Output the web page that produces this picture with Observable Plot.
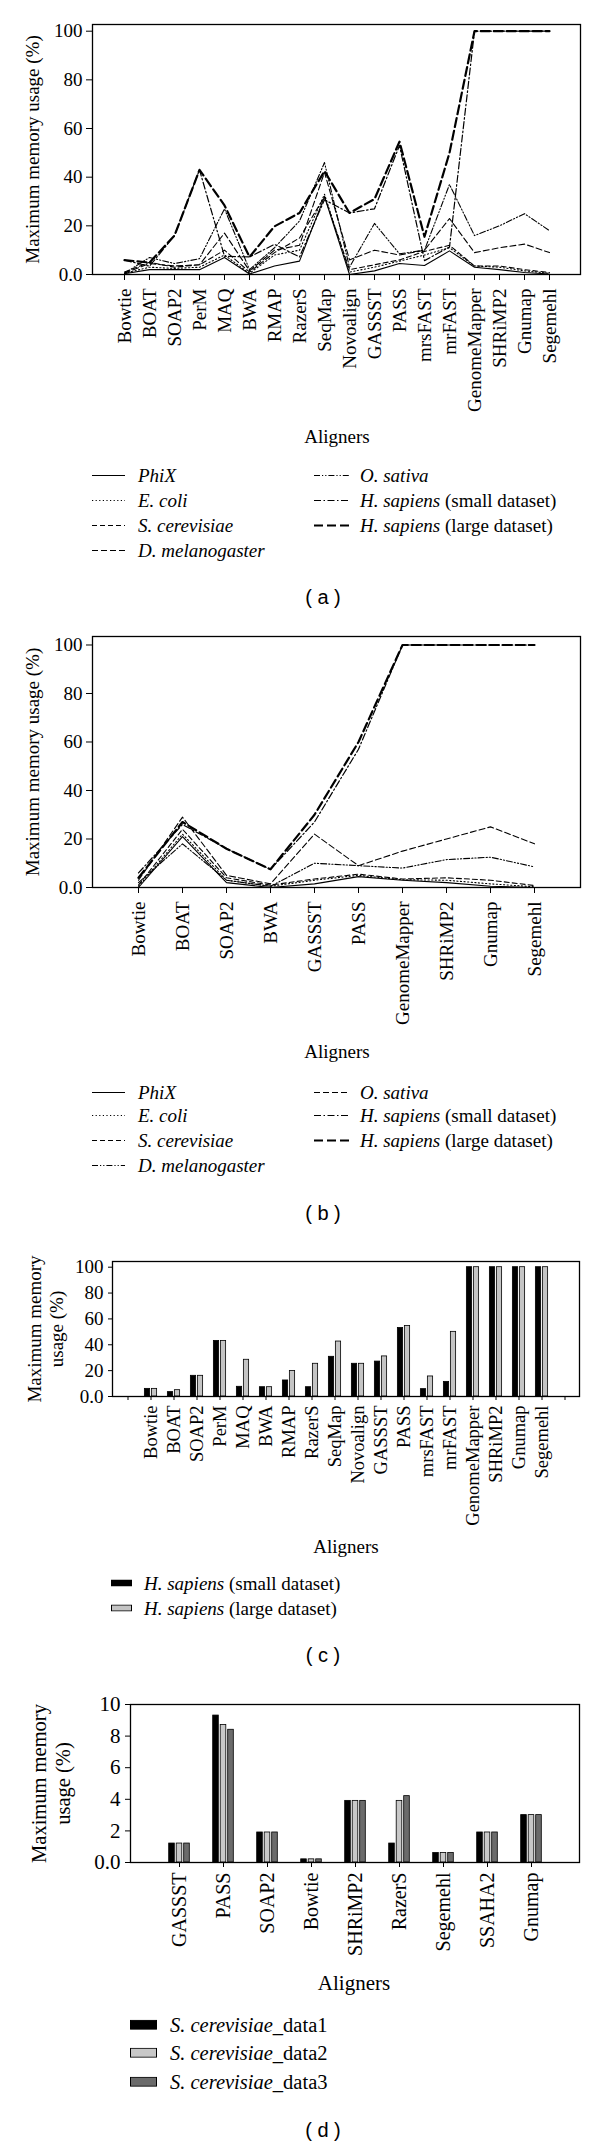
<!DOCTYPE html>
<html><head><meta charset="utf-8">
<script src="https://cdn.jsdelivr.net/npm/d3@7"></script>
<script src="https://cdn.jsdelivr.net/npm/@observablehq/plot@0.6"></script>
<style>
body{margin:0;background:#fff;}
#page{position:relative;width:600px;height:2146px;background:#fff;font-family:"Liberation Serif",serif;color:#000;overflow:hidden}
.lbl{position:absolute;transform:translate(-50%,-50%);white-space:nowrap;line-height:1;}
.cap{position:absolute;transform:translate(-50%,-50%);font-family:"Liberation Sans",Arial,sans-serif;font-size:20px;white-space:pre;line-height:1;}
.leg{position:absolute;display:flex;align-items:center;transform:translateY(-50%);white-space:nowrap;line-height:1;}
svg.plotsvg{position:absolute;left:0;}
</style></head><body><div id="page"></div>
<script>
// ---------- data ----------
const seriesNames = ["PhiX","E. coli","S. cerevisiae","D. melanogaster","O. sativa","H. sapiens (small dataset)","H. sapiens (large dataset)"];
const legendItalic = ["PhiX","E. coli","S. cerevisiae","D. melanogaster","O. sativa","H. sapiens","H. sapiens"];
const legendRoman = ["","","","","", " (small dataset)", " (large dataset)"];

const alignersA = ["Bowtie","BOAT","SOAP2","PerM","MAQ","BWA","RMAP","RazerS","SeqMap","Novoalign","GASSST","PASS","mrsFAST","mrFAST","GenomeMapper","SHRiMP2","Gnumap","Segemehl"];
const phixA   = [0.3, 2, 2, 2, 7, 0.2, 3.5, 5.5, 32, 0, 1.5, 4.5, 3.7, 9.7, 3, 2, 0.8, 0.2];
const ecoliA  = [0.5, 3, 2.5, 3, 8, 0.5, 8, 10, 33, 1, 3, 5.5, 8, 11, 3.5, 3, 1.5, 0.5];
const scerA   = [1, 5, 3, 4, 10, 1, 9, 15, 32, 2, 4, 6, 9.5, 12, 3.5, 3.5, 2, 0.8];
const dmelA   = [0.5, 4.5, 3.5, 4, 17, 1.5, 10, 12, 42, 6, 10, 8, 10, 23, 9, 11, 12.5, 9];
const osatA   = [0.5, 7, 4.5, 6.5, 27, 2, 11, 22, 46, 3, 21, 8.5, 10, 37, 16, 20, 25, 18];
const hsSmallA = [5.9, 3.4, 16, 43, 7.5, 7.2, 12.4, 7.2, 30.7, 25.3, 27, 53, 5.7, 11.3, 100, 100, 100, 100];
const hsLargeA = [5.9, 4.9, 16, 43, 28.4, 7.2, 19.8, 25.3, 42.5, 25.3, 31, 54.6, 15.5, 50, 100, 100, 100, 100];

const alignersB = ["Bowtie","BOAT","SOAP2","BWA","GASSST","PASS","GenomeMapper","SHRiMP2","Gnumap","Segemehl"];
const phixB   = [0, 21, 2, 0, 1.5, 4.5, 3, 2, 0.5, 0];
const ecoliB  = [0.5, 22, 3, 0.5, 3, 5, 3.2, 3, 1.5, 0.3];
const scerB   = [1, 24, 4, 1, 3.5, 5.5, 3.5, 4, 3, 0.8];
const dmelB   = [2, 18, 3, 0.5, 10, 9, 8, 11.5, 12.5, 8.5];
const osatB   = [3, 29, 5, 1.5, 22, 9, 15, 20, 25, 18];
const hsSmallB = [6, 26, 16, 7.5, 27, 57, 100, 100, 100, 100];
const hsLargeB = [4, 27, 16, 7.5, 30, 60, 100, 100, 100, 100];

const alignersC = alignersA;
const hsSmallC = [5.9, 3.4, 16, 43, 7.5, 7.2, 12.4, 7.2, 30.7, 25.3, 27, 53, 5.7, 11.3, 100, 100, 100, 100];
const hsLargeC = [5.9, 4.9, 16, 43, 28.4, 7.2, 19.8, 25.3, 42.5, 25.3, 31, 54.6, 15.5, 50, 100, 100, 100, 100];
const seriesC = ["H. sapiens (small dataset)","H. sapiens (large dataset)"];

const alignersD = ["GASSST","PASS","SOAP2","Bowtie","SHRiMP2","RazerS","Segemehl","SSAHA2","Gnumap"];
const data1D = [1.2, 9.3, 1.9, 0.2, 3.9, 1.2, 0.6, 1.9, 3.0];
const data2D = [1.2, 8.7, 1.9, 0.2, 3.9, 3.9, 0.6, 1.9, 3.0];
const data3D = [1.2, 8.4, 1.9, 0.2, 3.9, 4.2, 0.6, 1.9, 3.0];
const seriesD = ["S. cerevisiae_data1","S. cerevisiae_data2","S. cerevisiae_data3"];

const yTicksPct = [0, 20, 40, 60, 80, 100];
const yTicksD = [0, 2, 4, 6, 8, 10];

// ---------- styles ----------
const dashA = [null, "1.2,2.4", "5,3", "6,3", "6,2,1.2,2,1.2,2", "7,2.5,1.5,2.5", "9,4"];
const dashB = [null, "1.2,2.4", "5,3", "6,2,1.2,2,1.2,2", "6,3", "7,2.5,1.5,2.5", "9,4"];
const widthsL = [1.1, 1.1, 1.1, 1.1, 1.1, 1.2, 2.2];
const fillC = ["#000", "#c4c4c4"];
const fillD = ["#000", "#c8c8c8", "#6b6b6b"];
const fmtPct = d => d === 0 ? "0.0" : String(d);
const SERIF = '"Liberation Serif", "Times New Roman", serif';

const page = document.getElementById("page");
function place(svg, top) { svg.classList.add("plotsvg"); svg.style.top = top + "px"; page.appendChild(svg); }

function linePanel(aligners, valueLists, dashes, yTop, h, mt, mb) {
  const rows = [];
  seriesNames.forEach((s, i) => valueLists[i].forEach((v, j) => rows.push({series: s, aligner: aligners[j], value: v})));
  return Plot.plot({
    width: 600, height: h, marginLeft: 92, marginRight: 20, marginTop: mt, marginBottom: mb,
    style: {fontFamily: SERIF, fontSize: "19px", color: "#000", background: "transparent"},
    x: {type: "point", domain: aligners, padding: 1},
    y: {domain: [0, yTop]},
    marks: [
      Plot.axisY({ticks: yTicksPct, tickFormat: fmtPct, tickSize: 6, tickPadding: 4, label: null, fontSize: 19}),
      Plot.axisX({tickSize: 6, tickPadding: 8, tickRotate: -90, label: null, fontSize: 19}),
      ...seriesNames.map((s, i) => Plot.line(rows.filter(d => d.series === s), {
        x: "aligner", y: "value", stroke: "#000", strokeWidth: widthsL[i],
        strokeDasharray: dashes[i] || undefined
      })),
      Plot.frame({stroke: "#000", strokeWidth: 1.3}),
      Plot.text(["Maximum memory usage (%)"], {text: d => d, frameAnchor: "left", textAnchor: "middle", lineAnchor: "middle", rotate: -90, dx: -60, fontSize: 19})
    ]
  });
}

// Panel (a)
place(linePanel(alignersA, [phixA, ecoliA, scerA, dmelA, osatA, hsSmallA, hsLargeA], dashA, 102.75, 440, 24, 166), 0);
// Panel (b)
place(linePanel(alignersB, [phixB, ecoliB, scerB, dmelB, osatB, hsSmallB, hsLargeB], dashB, 103.5, 440, 26, 163), 610);

// Panel (c)
{
  const domC = ["_L", ...alignersC, "_R"];
  const mL = 112, mR = 21;
  const bw = (600 - mL - mR) / domC.length;
  const w = 5.6, g = 1.4, start = (bw - (2 * w + g)) / 2;
  const rows = [];
  [hsSmallC, hsLargeC].forEach((vals, i) => vals.forEach((v, j) => rows.push({series: seriesC[i], k: i, aligner: alignersC[j], value: v})));
  const svg = Plot.plot({
    width: 600, height: 305, marginLeft: mL, marginRight: mR, marginTop: 31, marginBottom: 139,
    style: {fontFamily: SERIF, fontSize: "18.5px", color: "#000", background: "transparent"},
    x: {type: "band", domain: domC, padding: 0},
    y: {domain: [0, 104.4]},
    marks: [
      Plot.axisY({ticks: yTicksPct, tickFormat: fmtPct, tickSize: 4, tickPadding: 5, label: null, fontSize: 19}),
      Plot.axisX({tickSize: 4, tickPadding: 5, tickRotate: -90, label: null, tickFormat: d => d.startsWith("_") ? "" : d}),
      ...[0, 1].map(i => Plot.barY(rows.filter(d => d.k === i), {
        x: "aligner", y: "value", fill: fillC[i], stroke: "#000", strokeWidth: 0.8,
        insetLeft: start + i * (w + g), insetRight: bw - (start + i * (w + g) + w)
      })),
      Plot.frame({stroke: "#000", strokeWidth: 1.3}),
      Plot.text(["Maximum memory\nusage (%)"], {text: d => d, frameAnchor: "left", textAnchor: "middle", lineAnchor: "middle", rotate: -90, dx: -68, fontSize: 19, lineHeight: 1.16})
    ]
  });
  place(svg, 1230);
}

// Panel (d)
{
  const mL = 130, mR = 21;
  const n = alignersD.length;
  const bw = (600 - mL - mR) / (n + 1);
  const w = 6.5, g = 1, start = (bw - (3 * w + 2 * g)) / 2;
  const rows = [];
  [data1D, data2D, data3D].forEach((vals, i) => vals.forEach((v, j) => rows.push({series: seriesD[i], k: i, aligner: alignersD[j], value: v})));
  const svg = Plot.plot({
    width: 600, height: 285, marginLeft: mL, marginRight: mR, marginTop: 14, marginBottom: 113,
    style: {fontFamily: SERIF, fontSize: "20px", color: "#000", background: "transparent"},
    x: {type: "band", domain: alignersD, paddingInner: 0, paddingOuter: 0.5},
    y: {domain: [0, 10]},
    marks: [
      Plot.axisY({ticks: yTicksD, tickFormat: fmtPct, tickSize: 5, tickPadding: 5, label: null, fontSize: 21}),
      Plot.axisX({tickSize: 5, tickPadding: 5, tickRotate: -90, label: null}),
      ...[0, 1, 2].map(i => Plot.barY(rows.filter(d => d.k === i), {
        x: "aligner", y: "value", fill: fillD[i], stroke: "#000", strokeWidth: 0.8,
        insetLeft: start + i * (w + g), insetRight: bw - (start + i * (w + g) + w)
      })),
      Plot.frame({stroke: "#000", strokeWidth: 1.3}),
      Plot.text(["Maximum memory\nusage (%)"], {text: d => d, frameAnchor: "left", textAnchor: "middle", lineAnchor: "middle", rotate: -90, dx: -80, fontSize: 20.5, lineHeight: 1.17})
    ]
  });
  place(svg, 1690);
}

// ---------- HTML texts ----------
function addText(cls, text, x, y, fs) {
  const d = document.createElement("div");
  d.className = cls; d.textContent = text;
  d.style.left = x + "px"; d.style.top = y + "px";
  if (fs) d.style.fontSize = fs + "px";
  page.appendChild(d);
}
addText("lbl", "Aligners", 337, 436, 19);
addText("lbl", "Aligners", 337, 1051, 19);
addText("lbl", "Aligners", 346, 1546, 19);
addText("lbl", "Aligners", 354, 1983, 21);
addText("cap", "( a )", 323, 597);
addText("cap", "( b )", 323, 1213);
addText("cap", "( c )", 323, 1655);
addText("cap", "( d )", 323, 2130);

function lineSample(dash, wdt, len) {
  return `<svg width="${len}" height="10" style="display:block"><line x1="0" x2="${len}" y1="5" y2="5" stroke="#000" stroke-width="${wdt}" ${dash ? `stroke-dasharray="${dash}"` : ""}/></svg>`;
}
function addLineLegend(rowsY, dashes) {
  const cols = [[0, 1, 2, 3], [4, 5, 6]];
  cols.forEach((idxs, c) => idxs.forEach((i, r) => {
    const x = c === 0 ? 92 : 314;
    const len = c === 0 ? 33 : 35;
    const gap = c === 0 ? 13 : 11;
    const d = document.createElement("div");
    d.className = "leg";
    d.style.left = x + "px"; d.style.top = rowsY[r] + "px"; d.style.fontSize = "19px";
    d.innerHTML = lineSample(dashes[i], widthsL[i], len) + `<span style="margin-left:${gap}px"><i>${legendItalic[i]}</i>${legendRoman[i]}</span>`;
    page.appendChild(d);
  }));
}
addLineLegend([475, 500, 525, 550], dashA);
addLineLegend([1092, 1115, 1140, 1165], dashB);

function addBarLegend(rowsY, names, fills, x, sw, sh, gap, fs, splitFn) {
  names.forEach((nm, i) => {
    const d = document.createElement("div");
    d.className = "leg";
    d.style.left = x + "px"; d.style.top = rowsY[i] + "px"; d.style.fontSize = fs + "px";
    const [it, ro] = splitFn(nm);
    d.innerHTML = `<svg width="${sw}" height="${sh}" style="display:block"><rect x="0.5" y="0.5" width="${sw - 1}" height="${sh - 1}" fill="${fills[i]}" stroke="#000" stroke-width="1"/></svg>` +
      `<span style="margin-left:${gap}px"><i>${it}</i>${ro}</span>`;
    page.appendChild(d);
  });
}
addBarLegend([1583, 1608], seriesC, fillC, 111, 21, 7, 12, 19, nm => [nm.slice(0, 10), nm.slice(10)]);
addBarLegend([2025, 2053, 2082], seriesD, fillD, 130, 27, 10, 13, 20.5, nm => [nm.slice(0, 13), nm.slice(13)]);
</script>
</body></html>
